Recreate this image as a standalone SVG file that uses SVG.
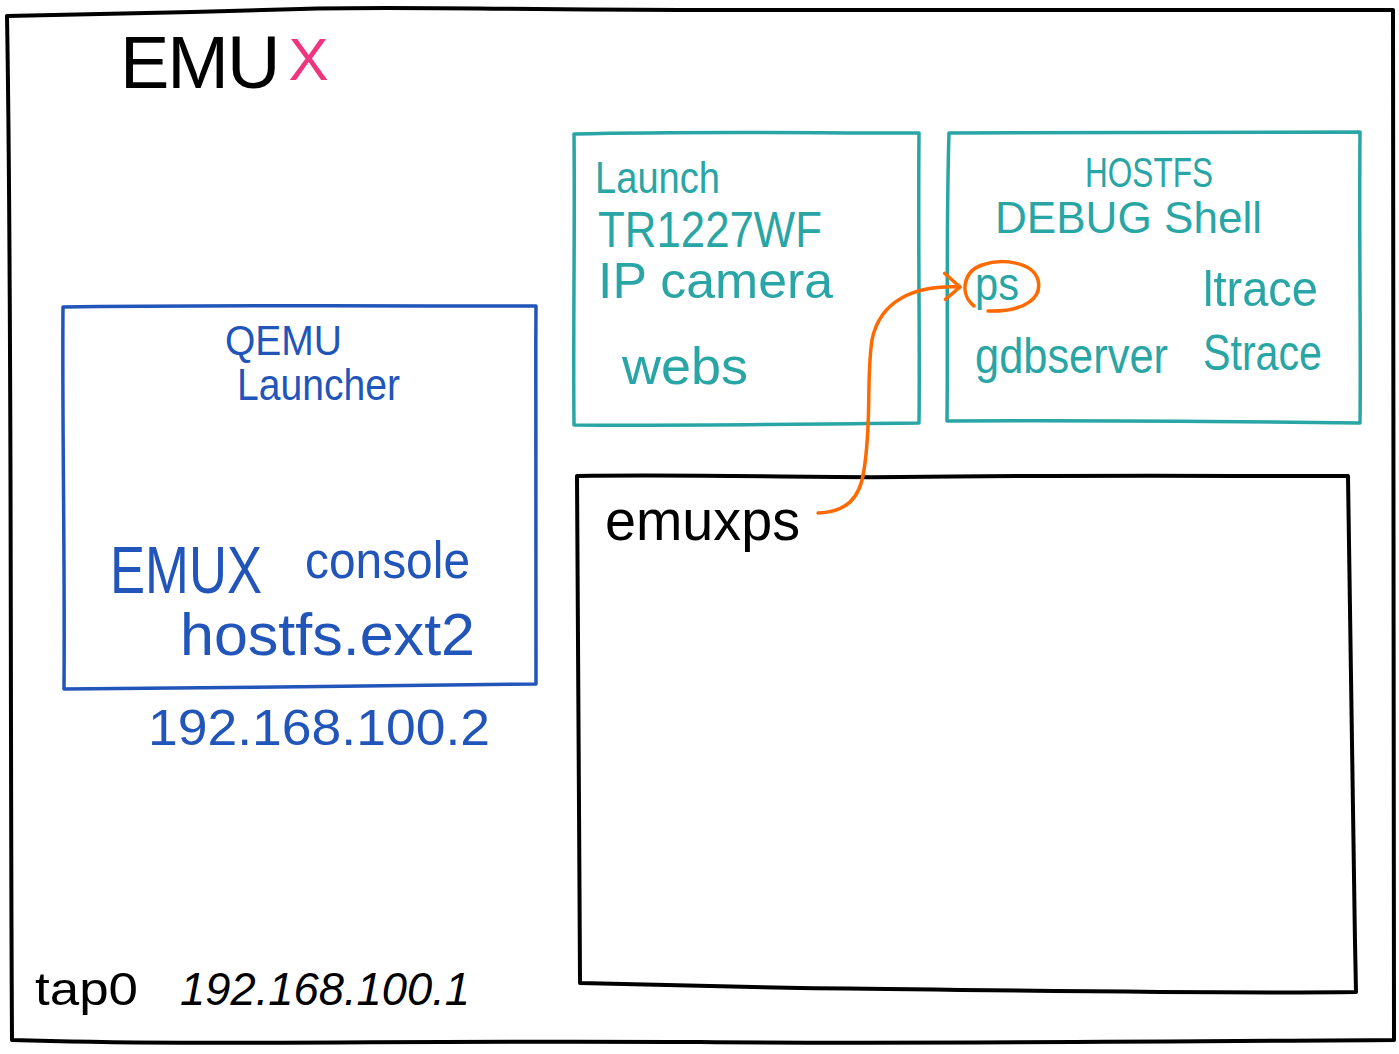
<svg xmlns="http://www.w3.org/2000/svg" width="1399" height="1054" viewBox="0 0 1399 1054">
<style>
.box{fill:none;stroke-linecap:round;stroke-linejoin:round}
.k{stroke:#000;stroke-width:4}
.t{stroke:#2aa5a5;stroke-width:3.5}
.b{stroke:#2155b9;stroke-width:3.5}
.txt{font-family:"Liberation Sans","DejaVu Sans",sans-serif}
.tt{fill:#2aa5a5}
.bt{fill:#2155b9}
.kt{fill:#000}
.or{fill:none;stroke:#ff6a00;stroke-width:3.5;stroke-linecap:round;stroke-linejoin:round}
</style>
<defs>
<marker id="ah" viewBox="0 0 20 30" refX="18" refY="15" markerWidth="20" markerHeight="30" markerUnits="userSpaceOnUse" orient="auto">
<path d="M2,2 L18,15 L4,28" fill="none" stroke="#ff6a00" stroke-width="3.5" stroke-linecap="round" stroke-linejoin="round"/>
</marker>
</defs>
<rect width="1399" height="1054" fill="#fff"/>
<g id="frame">
<path class="box k" d="M7,16 C120,14 200,12 300,9 C400,6 500,10 700,10 C900,9 1100,11 1393,10 C1394,300 1392,600 1394,1040 C1100,1042 900,1044 700,1042 C400,1040 200,1046 12,1040 C10,700 12,300 7,16 Z"/>
<text class="txt kt" x="120" y="88" font-size="74" letter-spacing="-2">EMU<tspan fill="#f0357f" font-size="60" dx="10" dy="-8">X</tspan></text>
</g>
<g id="launch">
<path class="box t" d="M574,134 C700,131 800,133 919,133 C918,250 920,350 919,423 C800,424 700,426 574,425 C573,330 575,230 574,134 Z"/>
<text class="txt tt" x="595" y="193" font-size="44" textLength="125" lengthAdjust="spacingAndGlyphs">Launch</text>
<text class="txt tt" x="598" y="247" font-size="50" textLength="224" lengthAdjust="spacingAndGlyphs">TR1227WF</text>
<text class="txt tt" x="598" y="298" font-size="50" textLength="235" lengthAdjust="spacingAndGlyphs">IP camera</text>
<text class="txt tt" x="622" y="384" font-size="52" textLength="126" lengthAdjust="spacingAndGlyphs">webs</text>
</g>
<g id="hostfs">
<path class="box t" d="M949,133 C1100,132 1250,131 1360,132 C1359,250 1361,350 1360,423 C1200,421 1100,420 947,421 C948,330 946,230 949,133 Z"/>
<text class="txt tt" x="1085" y="187" font-size="42" textLength="128" lengthAdjust="spacingAndGlyphs">HOSTFS</text>
<text class="txt tt" x="995" y="233" font-size="44" textLength="267" lengthAdjust="spacingAndGlyphs">DEBUG Shell</text>
<text class="txt tt" x="975" y="300" font-size="46" textLength="44" lengthAdjust="spacingAndGlyphs">ps</text>
<text class="txt tt" x="1203" y="306" font-size="50" textLength="115" lengthAdjust="spacingAndGlyphs">ltrace</text>
<text class="txt tt" x="975" y="373" font-size="50" textLength="193" lengthAdjust="spacingAndGlyphs">gdbserver</text>
<text class="txt tt" x="1203" y="370" font-size="50" textLength="119" lengthAdjust="spacingAndGlyphs">Strace</text>
</g>
<g id="qemu">
<path class="box b" d="M63,307 C200,305 400,306 536,306 C535,450 537,600 536,684 C400,686 200,688 64,689 C65,550 62,420 63,307 Z"/>
<text class="txt bt" x="225" y="355" font-size="42" textLength="117" lengthAdjust="spacingAndGlyphs">QEMU</text>
<text class="txt bt" x="237" y="400" font-size="44" textLength="163" lengthAdjust="spacingAndGlyphs">Launcher</text>
<text class="txt bt" x="110" y="593" font-size="66" textLength="152" lengthAdjust="spacingAndGlyphs">EMUX</text>
<text class="txt bt" x="305" y="578" font-size="52" textLength="165" lengthAdjust="spacingAndGlyphs">console</text>
<text class="txt bt" x="180" y="655" font-size="60" textLength="295" lengthAdjust="spacingAndGlyphs">hostfs.ext2</text>
<text class="txt bt" x="148" y="745" font-size="50" textLength="342" lengthAdjust="spacingAndGlyphs">192.168.100.2</text>
</g>
<g id="emuxps">
<path class="box k" d="M577,476 C700,474 800,478 900,477 C1050,475 1200,476 1348,476 C1350,600 1352,800 1356,992 C1200,994 1000,990 800,988 C700,986 640,985 580,983 C579,800 578,600 577,476 Z"/>
<text class="txt kt" x="605" y="540" font-size="58" textLength="195" lengthAdjust="spacingAndGlyphs">emuxps</text>
</g>
<g id="tap">
<text class="txt kt" x="35" y="1005" font-size="46" textLength="103" lengthAdjust="spacingAndGlyphs">tap0</text>
<text class="txt kt" x="180" y="1005" font-size="46" font-style="italic" textLength="290" lengthAdjust="spacingAndGlyphs">192.168.100.1</text>
</g>
<g id="connectors">
<path class="or" d="M988,311 C1028,312 1042,296 1038,280 C1033,262 1002,258 982,265 C962,272 960,295 974,306"/>
<path class="or" d="M818,513 C845,512 860,500 864,470 C872,420 866,380 872,340 C880,300 915,285 960,287" marker-end="url(#ah)"/>
</g>
</svg>
